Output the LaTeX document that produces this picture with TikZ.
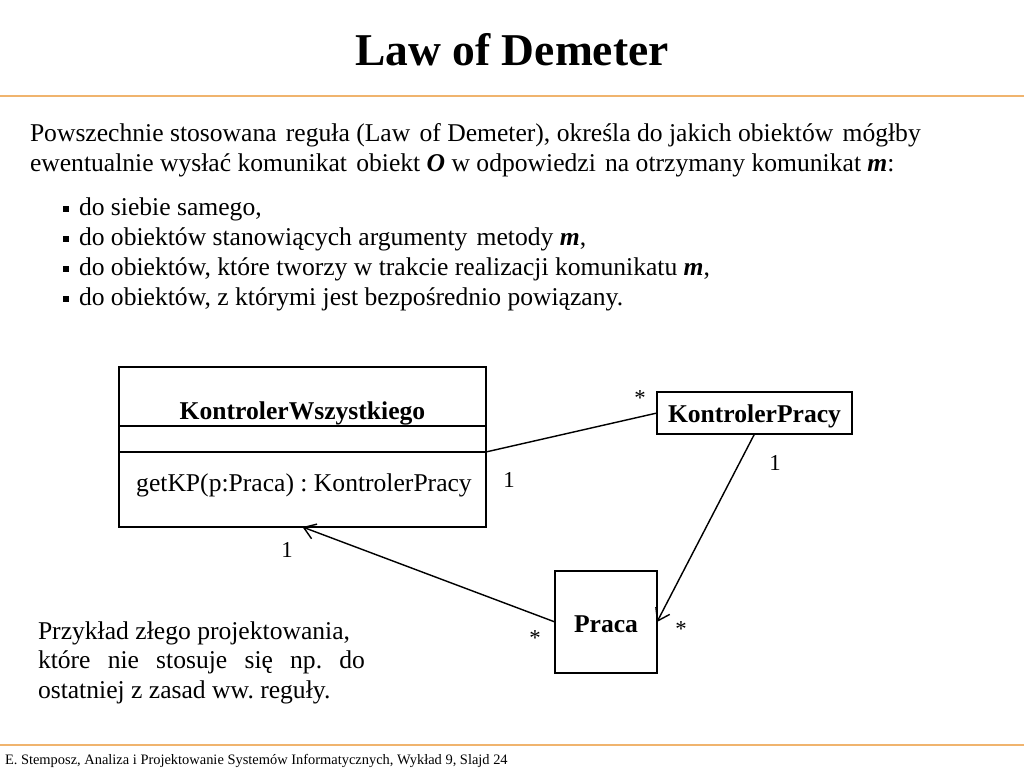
\documentclass[tikz,border=0pt]{standalone}
\usepackage{fontspec}
\setmainfont{Liberation Serif}
\usepackage{tikz}
\usetikzlibrary{arrows.meta, positioning}
\definecolor{rulecolor}{RGB}{240,180,110}
\newcommand{\sqbul}{\makebox[11.25pt][l]{\raisebox{0.17em}{\rule{4.2pt}{4.2pt}}}}
\newcommand{\dsp}{\hspace{2pt}\ }
\frenchspacing
\tikzset{
  >={Straight Barb[length=8pt,width=11pt]},
  every node/.style={inner sep=0pt, outer sep=0pt},
  umlbox/.style={draw, line width=0.9pt, fill=white},
  assoc/.style={line width=1pt},
  txt/.style={font=\fontsize{18}{21}\selectfont},
  boldtxt/.style={font=\fontsize{18}{21}\selectfont\bfseries},
  mult/.style={font=\fontsize{16}{19}\selectfont},
  hrule/.style={draw=rulecolor, line width=1.5pt},
}

\begin{document}
\begin{tikzpicture}[x=0.703125pt, y=-0.703125pt]
  \useasboundingbox (0,0) rectangle (1024,768);

  % header and footer
  \node[font=\fontsize{32}{38}\selectfont\bfseries, anchor=base] (title) at (512,66) {Law of Demeter};
  \draw[hrule] (0,96) -- (1024,96);
  \draw[hrule] (0,745) -- (1024,745);
  \node[font=\fontsize{10.15}{12}\selectfont, anchor=base west] (footer) at (5,764)
    {E. Stemposz, Analiza i Projektowanie Systemów Informatycznych, Wykład 9, Slajd 24};

  % rule text
  \node[txt, anchor=base west] (intro1) at (30,142)
    {Powszechnie stosowana\dsp reguła (Law\dsp of Demeter), określa do jakich obiektów\dsp mógłby};
  \node[txt, anchor=base west] (intro2) at (30,172)
    {ewentualnie wysłać komunikat\dsp obiekt \textbf{\textit{O}} w odpowiedzi\dsp na otrzymany komunikat \textbf{\textit{m}}:};
  \node[txt, anchor=base west] (item1) at (63,216) {\sqbul do siebie samego,};
  \node[txt, anchor=base west] (item2) at (63,246) {\sqbul do obiektów stanowiących argumenty\dsp metody \textbf{\textit{m}},};
  \node[txt, anchor=base west] (item3) at (63,276) {\sqbul do obiektów, które tworzy w trakcie realizacji komunikatu \textbf{\textit{m}},};
  \node[txt, anchor=base west] (item4) at (63,306) {\sqbul do obiektów, z którymi jest bezpośrednio powiązany.};

  % classes
  \node[umlbox, minimum width=258pt, minimum height=112.5pt] (kw) at (302.5,447) {};
  \node[boldtxt, anchor=base] (kwname) at (302.5,419) {KontrolerWszystkiego};
  \draw[umlbox] (kw.west |- 0,426) -- (kw.east |- 0,426);
  \draw[umlbox] (kw.west |- 0,452) -- (kw.east |- 0,452);
  \node[txt, anchor=base] (kwop) at (304,491) {getKP(p:Praca) : KontrolerPracy};

  \node[umlbox, boldtxt, minimum width=137.1pt, minimum height=29.5pt,
        text height=13.6pt, text depth=0pt] (kp) at (754.5,413) {KontrolerPracy};
  \node[umlbox, boldtxt, minimum width=71.7pt, minimum height=71.7pt,
        text height=15pt, text depth=0pt] (praca) at (606,622) {Praca};

  % associations
  \draw[assoc]    ([yshift=-3.5pt]kw.east) -- (kp.west);
  \draw[assoc,->] (kp.south) -- (praca.east);
  \draw[assoc,->] (praca.west) -- (kw.south);

  \node[mult] (m1) at (640,398) {*};
  \node[mult] (m2) at (509,480) {1};
  \node[mult] (m3) at (775,463) {1};
  \node[mult] (m4) at (287,550) {1};
  \node[mult] (m5) at (535,638) {*};
  \node[mult] (m6) at (681,629) {*};

  % comment text
  \node[txt, anchor=base west] (bad1) at (38,639) {Przykład złego projektowania,};
  \node[txt, anchor=base west] (bad2) at (38,668) {\makebox[229.9pt][s]{które nie stosuje się np. do}};
  \node[txt, anchor=base west] (bad3) at (38,698) {ostatniej z zasad ww. reguły.};
\end{tikzpicture}
\end{document}
